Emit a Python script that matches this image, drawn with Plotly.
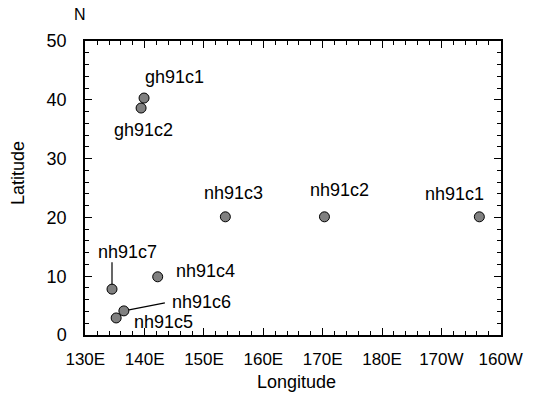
import plotly.graph_objects as go

# ---- data ----
names = ["gh91c1", "gh91c2", "nh91c3", "nh91c2", "nh91c1",
         "nh91c4", "nh91c7", "nh91c6", "nh91c5"]
lon = [139.9, 139.4, 153.6, 170.3, 196.4, 142.2, 134.5, 136.5, 135.2]   # degrees east (>180 = W)
lat = [40.3, 38.6, 20.1, 20.1, 20.1, 9.9, 7.8, 4.1, 2.9]

x_tickvals = [130, 140, 150, 160, 170, 180, 190, 200]
x_ticktext = ["130E", "140E", "150E", "160E", "170E", "180E", "170W", "160W"]
y_tickvals = [0, 10, 20, 30, 40, 50]

# label placement (pixel offsets from point; styling only)
label_offsets = {
    "gh91c1": (30, 21), "gh91c2": (2, -22), "nh91c3": (8, 24),
    "nh91c2": (15, 27), "nh91c1": (-25, 23), "nh91c4": (48, 6),
    "nh91c7": (15, 37), "nh91c6": (78, 9), "nh91c5": (47, -4),
}
leaders = {"nh91c7": (0, 27), "nh91c6": (41, 8)}

FONT = "Liberation Sans, Arial, Helvetica, sans-serif"

fig = go.Figure()
fig.add_trace(go.Scatter(
    x=lon, y=lat, mode="markers",
    marker=dict(size=10, color="#808080", line=dict(color="black", width=1)),
    showlegend=False, hoverinfo="skip",
))

annotations = []
for n, xv, yv in zip(names, lon, lat):
    dx, dy = label_offsets[n]
    annotations.append(dict(
        x=xv, y=yv, xref="x", yref="y", text=n, showarrow=False,
        xanchor="center", yanchor="middle",
        xshift=dx, yshift=dy, font=dict(family=FONT, size=18, color="black"),
    ))

shapes = []
for n, (dx, dy) in leaders.items():
    i = names.index(n)
    shapes.append(dict(
        type="line", xref="x", yref="y",
        xsizemode="pixel", ysizemode="pixel",
        xanchor=lon[i], yanchor=lat[i],
        x0=0, y0=0, x1=dx, y1=dy,
        line=dict(color="black", width=1.2), layer="below",
    ))

annotations += [
    dict(xref="paper", yref="paper", x=0, y=0, xshift=211, yshift=-47,
         xanchor="center", yanchor="middle",
         text="Longitude", showarrow=False,
         font=dict(family=FONT, size=18, color="black")),
    dict(xref="paper", yref="paper", x=0, y=0.5, xshift=-67, yshift=15,
         xanchor="center", yanchor="middle",
         text="Latitude", textangle=-90, showarrow=False,
         font=dict(family=FONT, size=18, color="black")),
    dict(xref="paper", yref="paper", x=0, y=1, xshift=-5, yshift=27,
         xanchor="center", yanchor="middle",
         text="N", showarrow=False,
         font=dict(family=FONT, size=16, color="black")),
]

axis_common = dict(
    showline=True, linecolor="black", linewidth=1.5, mirror="allticks",
    ticks="inside", ticklen=7, tickwidth=1.3, tickcolor="black",
    showgrid=False, zeroline=False,
    minor=dict(ticks="inside", ticklen=4, tickwidth=1.1, tickcolor="black",
               dtick=2, showgrid=False),
)

fig.update_layout(
    width=535, height=395,
    margin=dict(l=85, r=27, t=41, b=60),
    paper_bgcolor="white", plot_bgcolor="white",
    font=dict(family=FONT, color="black"),
    xaxis=dict(range=[129.95, 200.05], tickmode="array",
               tickvals=x_tickvals, ticktext=x_ticktext,
               tickfont=dict(size=17), ticklabelstandoff=8, **axis_common),
    yaxis=dict(range=[0, 50], tickmode="array", tickvals=y_tickvals,
               tickfont=dict(size=18), ticklabelstandoff=13, **axis_common),
    annotations=annotations, shapes=shapes,
)

fig.write_html("out.html")
